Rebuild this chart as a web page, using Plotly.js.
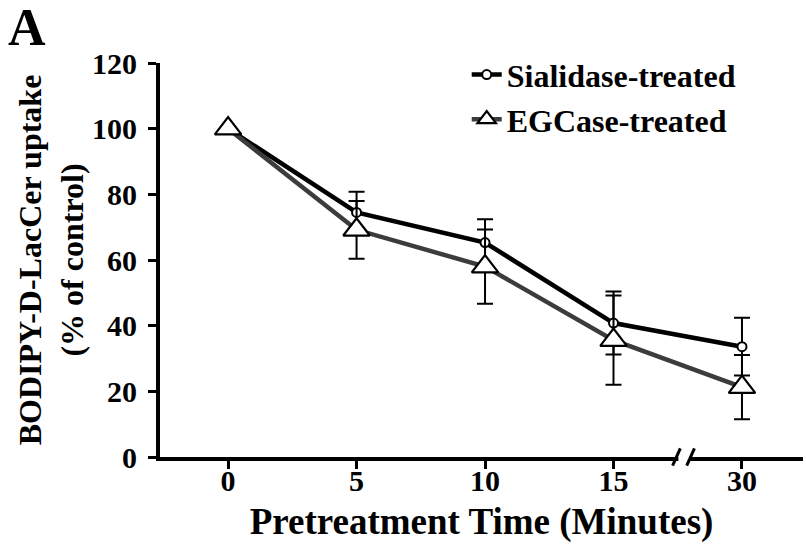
<!DOCTYPE html>
<html><head><meta charset="utf-8">
<script src="https://cdn.plot.ly/plotly-3.0.1.min.js"></script>
<style>html,body{margin:0;padding:0;background:#fff;}#chart{width:806px;height:549px;}</style>
</head><body><div id="chart"></div>
<script>
// ---- data ----
const timeLabels = ['0', '5', '10', '15', '30'];          // Pretreatment time (minutes), broken axis between 15 and 30
const sialidaseMean = [100, 74.5, 65.3, 40.8, 33.6];
const sialidaseErr  = [0, 6.3, 7.1, 9.6, 8.8];
const egcaseMean    = [100, 69.2, 58.0, 35.6, 21.3];
const egcaseErr     = [0, 8.8, 11.3, 13.6, 9.8];
const yTickVals = [0, 20, 40, 60, 80, 100, 120];
const seriesNames = ['Sialidase-treated', 'EGCase-treated'];

const xPos = timeLabels.map((_, i) => i);
const FONT = 'Liberation Serif, Times New Roman, serif';
const breakAt = 3.545;

const traces = [
  {
    x: xPos, y: sialidaseMean, name: seriesNames[0], type: 'scatter', mode: 'lines+markers',
    line: {color: '#000000', width: 4.5},
    marker: {symbol: 'circle', size: 9, color: '#ffffff', line: {color: '#000000', width: 2}},
    error_y: {type: 'data', array: sialidaseErr, visible: true, color: '#000000', thickness: 2, width: 8},
    cliponaxis: false
  },
  {
    x: xPos, y: egcaseMean, name: seriesNames[1], type: 'scatter', mode: 'lines+markers',
    line: {color: '#3c3c3c', width: 4.5},
    marker: {symbol: 'triangle-up', size: 23, color: '#ffffff', line: {color: '#000000', width: 2.2}},
    error_y: {type: 'data', array: egcaseErr, visible: true, color: '#000000', thickness: 2, width: 8},
    cliponaxis: false
  }
];

const layout = {
  width: 806, height: 549,
  margin: {l: 160, r: 3, t: 63, b: 92},
  paper_bgcolor: '#ffffff', plot_bgcolor: '#ffffff',
  font: {family: FONT, color: '#000000'},
  showlegend: true,
  legend: {
    x: 0.477, y: 1.04, xanchor: 'left', yanchor: 'top',
    bgcolor: 'rgba(0,0,0,0)', borderwidth: 0,
    font: {family: FONT, size: 32, color: '#000000', weight: 'bold'},
    tracegroupgap: 0
  },
  xaxis: {
    range: [-0.53, 4.475],
    tickmode: 'array', tickvals: xPos, ticktext: timeLabels,
    showgrid: false, zeroline: false,
    showline: true, linecolor: '#000000', linewidth: 4,
    ticks: 'outside', ticklen: 8, tickwidth: 3, tickcolor: '#000000',
    tickfont: {family: FONT, size: 30, color: '#000000', weight: 'bold'},
    ticklabelstandoff: -14,
    title: {text: 'Pretreatment Time (Minutes)', font: {family: FONT, size: 37, color: '#000000', weight: 'bold'}, standoff: 13}
  },
  yaxis: {
    range: [0, 120],
    tickmode: 'array', tickvals: yTickVals,
    showgrid: false, zeroline: false,
    showline: true, linecolor: '#000000', linewidth: 4,
    ticks: 'outside', ticklen: 8, tickwidth: 3, tickcolor: '#000000',
    tickfont: {family: FONT, size: 30, color: '#000000', weight: 'bold'},
    ticklabelstandoff: 5,
    title: {text: 'BODIPY-D-LacCer uptake<br>(% of control)', font: {family: FONT, size: 32, color: '#000000', weight: 'bold'}, standoff: 0}
  },
  shapes: [
    {type: 'rect', xref: 'x', yref: 'paper', x0: breakAt - 0.04, x1: breakAt + 0.045, y0: -0.014, y1: 0.014,
     fillcolor: '#ffffff', line: {width: 0}, layer: 'above'},
    {type: 'line', xref: 'x', yref: 'paper', x0: breakAt - 0.085, x1: breakAt - 0.025, y0: -0.022, y1: 0.022,
     line: {color: '#000000', width: 3}, layer: 'above'},
    {type: 'line', xref: 'x', yref: 'paper', x0: breakAt + 0.025, x1: breakAt + 0.085, y0: -0.022, y1: 0.022,
     line: {color: '#000000', width: 3}, layer: 'above'}
  ],
  annotations: [
    {text: '<b>A</b>', xref: 'paper', yref: 'paper', x: -0.24, y: 1.09, xanchor: 'left', yanchor: 'middle',
     showarrow: false, font: {family: FONT, size: 52, color: '#000000'}}
  ]
};

Plotly.newPlot('chart', traces, layout, {staticPlot: true, displayModeBar: false});
</script>
</body></html>
